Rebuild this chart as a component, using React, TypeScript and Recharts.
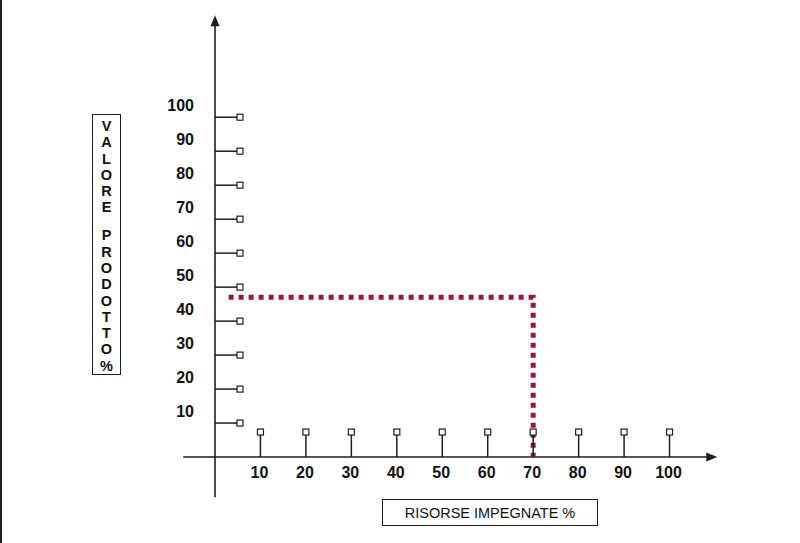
import { ComposedChart, XAxis, YAxis, Scatter, Line, ReferenceLine } from "recharts";

// tick values on both axes
const xTicks = [10, 20, 30, 40, 50, 60, 70, 80, 90, 100];
const yTicks = [10, 20, 30, 40, 50, 60, 70, 80, 90, 100];

// dotted projection: value 47 on the vertical axis read against 70 on the horizontal one
const projection = [
  { x: 3, y: 47 },
  { x: 70, y: 47 },
  { x: 70, y: 0 },
];

// extent of the drawn axes (in chart units)
const xAxisFrom = -7;
const xAxisTo = 110.5;
const yAxisFrom = -11.8;
const yAxisTo = 130;

const yTitle = ["V", "A", "L", "O", "R", "E", "", "P", "R", "O", "D", "O", "T", "T", "O", "%"];
const xTitle = "RISORSE IMPEGNATE %";

const INK = "#1e1e1e";
const RED = "#a0123c";
const FONT = "'Liberation Sans', Arial, Helvetica, sans-serif";

const xTickData = xTicks.map((v) => ({ x: v, y: 0 }));
const yTickData = yTicks.map((v) => ({ x: 0, y: v }));
const arrowData = [
  { x: xAxisTo, y: 0, dir: "right" },
  { x: 0, y: yAxisTo, dir: "up" },
];

const YTickShape = (props: any) => {
  const { cx, cy, payload } = props;
  return (
    <g>
      <line x1={cx} y1={cy} x2={cx + 22} y2={cy} stroke={INK} strokeWidth={1.5} />
      <rect x={cx + 22} y={cy - 3} width={6} height={6} fill="#fff" stroke={INK} strokeWidth={1.2} />
      <text x={cx - 21} y={cy - 6} textAnchor="end" fontFamily={FONT} fontWeight="bold" fontSize={16} fill="#111">
        {payload.y}
      </text>
    </g>
  );
};

const XTickShape = (props: any) => {
  const { cx, cy, payload } = props;
  return (
    <g>
      <line x1={cx} y1={cy} x2={cx} y2={cy - 22} stroke={INK} strokeWidth={1.5} />
      <rect x={cx - 3} y={cy - 28} width={6} height={6} fill="#fff" stroke={INK} strokeWidth={1.2} />
      <text x={cx - 1} y={cy + 21} textAnchor="middle" fontFamily={FONT} fontWeight="bold" fontSize={16} fill="#111">
        {payload.x}
      </text>
    </g>
  );
};

const ArrowShape = (props: any) => {
  const { cx, cy, payload } = props;
  const pts =
    payload.dir === "right"
      ? `${cx},${cy} ${cx - 11},${cy - 4.5} ${cx - 11},${cy + 4.5}`
      : `${cx},${cy} ${cx - 4.5},${cy + 11} ${cx + 4.5},${cy + 11}`;
  return <polygon points={pts} fill={INK} />;
};

export default function App() {
  return (
    <div style={{ position: "absolute", left: 0, top: 0, width: 800, height: 543, background: "#fff", fontFamily: FONT }}>
      {/* frame edge on the left */}
      <div style={{ position: "absolute", left: 0, top: 0, width: 2, height: 543, background: INK }} />

      <ComposedChart width={800} height={543} margin={{ top: 0, right: 0, bottom: 0, left: 0 }}>
        <XAxis type="number" dataKey="x" domain={[-47.3, 128.7]} allowDataOverflow hide />
        <YAxis type="number" dataKey="y" domain={[-25.3, 134.5]} allowDataOverflow hide />

        <ReferenceLine
          segment={[
            { x: xAxisFrom, y: 0 },
            { x: xAxisTo - 2, y: 0 },
          ]}
          stroke={INK}
          strokeWidth={1.6}
        />
        <ReferenceLine
          segment={[
            { x: 0, y: yAxisFrom },
            { x: 0, y: yAxisTo - 2 },
          ]}
          stroke={INK}
          strokeWidth={1.6}
        />

        <Line
          data={projection}
          dataKey="y"
          type="linear"
          stroke={RED}
          strokeWidth={5}
          strokeDasharray="5 5"
          dot={false}
          activeDot={false}
          isAnimationActive={false}
        />

        <Scatter data={yTickData} dataKey="y" shape={YTickShape} isAnimationActive={false} />
        <Scatter data={xTickData} dataKey="y" shape={XTickShape} isAnimationActive={false} />
        <Scatter data={arrowData} dataKey="y" shape={ArrowShape} isAnimationActive={false} />
      </ComposedChart>

      {/* vertical axis title */}
      <div
        style={{
          position: "absolute",
          left: 92,
          top: 114,
          width: 27,
          height: 256,
          border: `1.5px solid ${INK}`,
          paddingTop: 3,
          display: "flex",
          flexDirection: "column",
          alignItems: "center",
          fontWeight: "bold",
          fontSize: 14.5,
          color: "#111",
        }}
      >
        {yTitle.map((ch, i) =>
          ch === "" ? (
            <div key={i} style={{ height: 13 }} />
          ) : (
            <div key={i} style={{ height: 16.3, lineHeight: "16.3px" }}>
              {ch}
            </div>
          )
        )}
      </div>

      {/* horizontal axis title */}
      <div
        style={{
          position: "absolute",
          left: 382,
          top: 499,
          width: 214,
          height: 25,
          border: `1.5px solid ${INK}`,
          display: "flex",
          alignItems: "center",
          justifyContent: "center",
          fontSize: 14.5,
          color: "#111",
        }}
      >
        {xTitle}
      </div>
    </div>
  );
}
